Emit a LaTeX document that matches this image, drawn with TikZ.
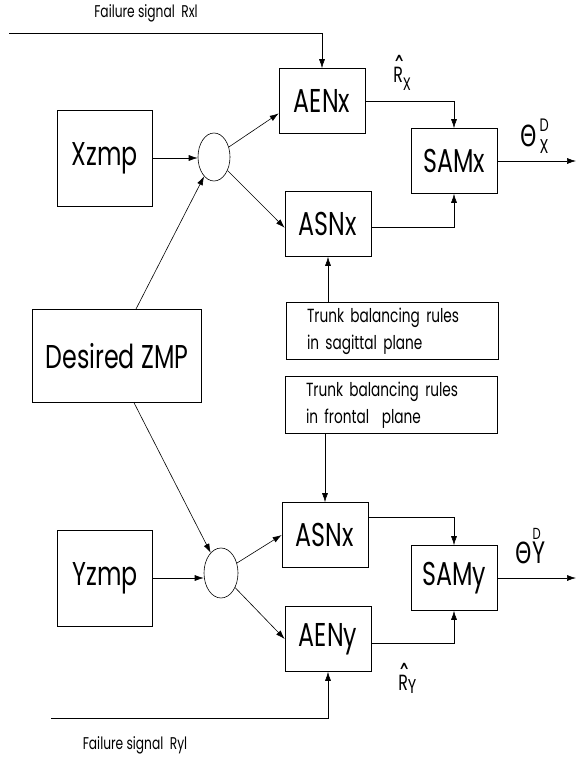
\documentclass[tikz,border=0pt]{standalone}
\usepackage{fontspec}
\setmainfont{Poppins}[FakeStretch=0.72]
\newfontfamily\grkfont{DejaVu Sans}[FakeStretch=0.72]
\usetikzlibrary{arrows.meta}
\usetikzlibrary{shapes.geometric}

\begin{document}
\begin{tikzpicture}[x=1pt,y=-1pt,line width=0.6pt,
  >={Latex[length=9pt,width=6pt]},
  blk/.style={draw,minimum width=86pt,minimum height=65pt,inner sep=0pt,font=\fontsize{33}{33}\selectfont},
  bigblk/.style={draw,minimum width=95pt,minimum height=96pt,inner sep=0pt,font=\fontsize{33}{33}\selectfont},
  rulebox/.style={draw,minimum width=212pt,minimum height=57pt,inner xsep=21pt,inner ysep=0pt,text width=170pt,align=left,font=\fontsize{19}{27}\selectfont},
  junc/.style={draw,ellipse,inner sep=0pt},
  sig/.style={inner sep=0pt,font=\fontsize{17}{17}\selectfont},
  hat/.style={inner sep=0pt,anchor=base west,font=\fontsize{22}{22}\selectfont}]
\useasboundingbox (0,0) rectangle (576,760);
% x side
\node[sig] (rxl) at (146,13) {Failure signal\ \ Rxl};
\coordinate (rxin) at (9,33);
\node[blk] (aenx) at (322,101) {AENx};
\node[blk] (samx) at (454,161) {SAMx};
\node[blk] (asnx) at (328,224) {ASNx};
\node[bigblk] (xzmp) at (105,158) {Xzmp};
\node[junc,minimum width=32pt,minimum height=48pt] (jx) at (214,157) {};
\node[hat] (rx) at (393,82) {\rlap{\grkfont\fontsize{34}{34}\selectfont\char"02C6}R\raisebox{-8pt}{\fontsize{18}{18}\selectfont X}};
\node[hat] (thx) at (520,146) {{\grkfont\fontsize{29}{29}\selectfont Θ}\hspace{3pt}\rlap{\raisebox{15pt}{\fontsize{18}{18}\selectfont D}}\raisebox{-7pt}{\fontsize{20}{20}\selectfont X}};
\coordinate (thxout) at (576,161);
% middle
\node[bigblk,minimum width=169pt,minimum height=93pt] (dzmp) at (117,356) {Desired ZMP};
\node[rulebox] (sag) at (392,331) {Trunk balancing rules\\in sagittal plane};
\node[rulebox] (frt) at (391,405) {Trunk balancing rules\\in frontal\ \ plane};
% y side
\node[blk] (asny) at (325,535) {ASNx};
\node[blk] (samy) at (454,578) {SAMy};
\node[blk] (aeny) at (328,639) {AENy};
\node[bigblk] (yzmp) at (105,578) {Yzmp};
\node[junc,minimum width=34pt,minimum height=50pt] (jy) at (221,573) {};
\node[hat] (ry) at (398,690) {\rlap{\grkfont\fontsize{34}{34}\selectfont\char"02C6}R\raisebox{-3pt}{\fontsize{20}{20}\selectfont Y}};
\node[hat] (thy) at (515,563) {{\grkfont\fontsize{29}{29}\selectfont Θ}\hspace{1pt}\rlap{\raisebox{24pt}{\fontsize{16}{16}\selectfont D}}{\fontsize{31}{31}\selectfont Y}};
\coordinate (thyout) at (576,578);
\node[sig] (ryl) at (135,745) {Failure signal\ \ Ryl};
\coordinate (ryin) at (51,718);

\draw[->] (rxin) -| (aenx.north);
\draw[->] (aenx.east) -| (samx.north);
\draw[->] (asnx.-5) -| (samx.south);
\draw[->] (samx.east) -- (thxout);
\draw[->] (xzmp.east) -- (xzmp.east -| jx.west);
\draw[->] (jx) -- (aenx.196);
\draw[->] (jx) -- (asnx.185);
\draw[->] (dzmp.68) -- (jx);
\draw[->] (dzmp.-70) -- (jy);
\draw[->] (sag.north -| asnx.south) -- (asnx.south);
\draw[->] (frt.south -| asny.north) -- (asny.north);
\draw[->] (yzmp.east) -- (yzmp.east -| jy.west);
\draw[->] (jy) -- (asny.west);
\draw[->] (jy) -- (aeny.west);
\draw[->] (asny.22) -| (samy.north);
\draw[->] (aeny.-6) -| (samy.south);
\draw[->] (samy.east) -- (thyout);
\draw[->] (ryin) -| (aeny.south);
\end{tikzpicture}
\end{document}
